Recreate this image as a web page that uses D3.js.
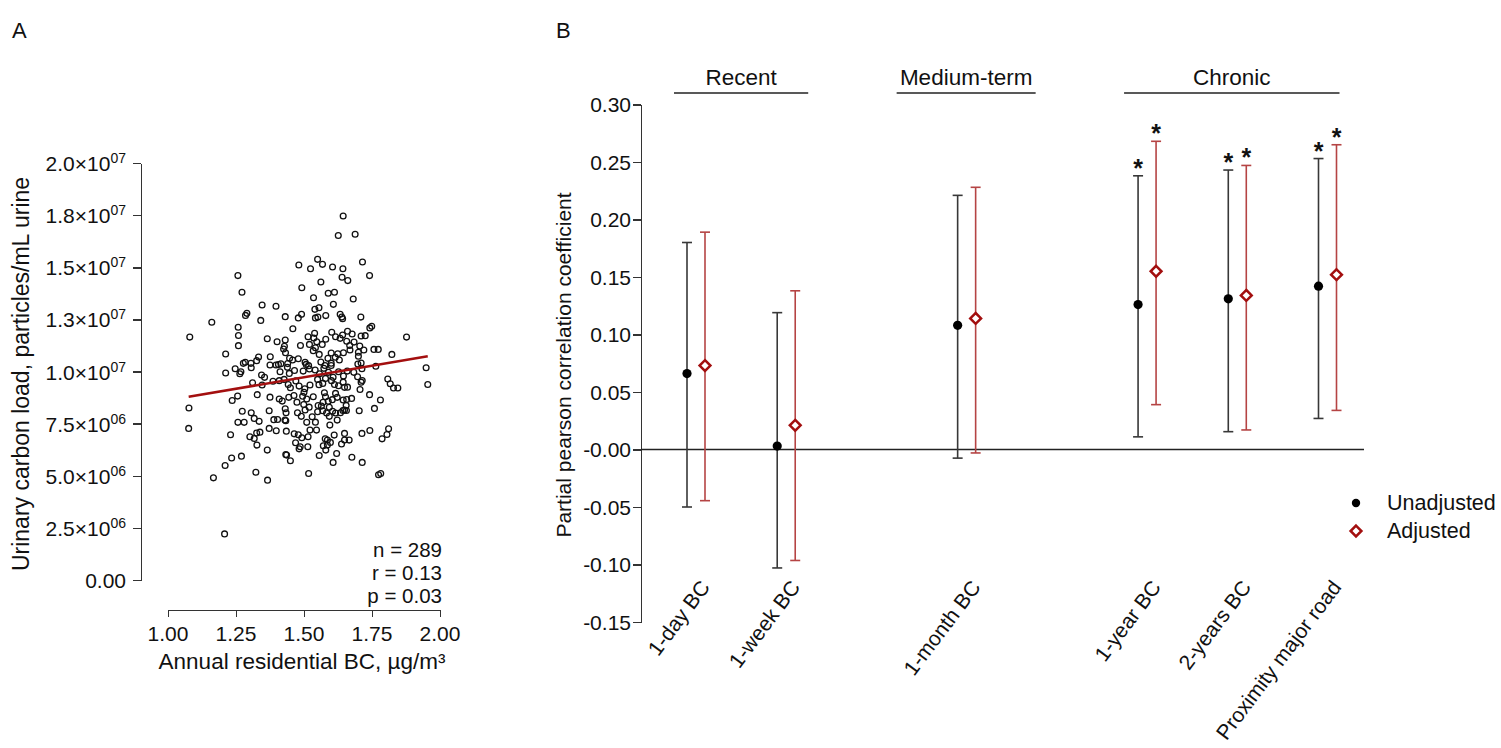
<!DOCTYPE html>
<html>
<head>
<meta charset="utf-8">
<script src="https://cdn.jsdelivr.net/npm/d3@7"></script>
<style>
  html, body { margin: 0; padding: 0; background: #fff; }
  svg { display: block; font-family: "Liberation Sans", Arial, Helvetica, sans-serif; }
  text { fill: #111; }
  .axis path, .axis line { stroke: #333; stroke-width: 1.5; fill: none; shape-rendering: crispEdges; }
</style>
</head>
<body>
<svg id="fig" width="1501" height="748"></svg>
<script>
// ---------- Panel A: urinary carbon load vs annual residential BC ----------
const bcAnnual = [
  1.644,1.626,1.688,
  1.481,1.524,1.550,1.568,1.605,1.643,1.715,1.741,
  1.257,1.640,1.661,1.492,1.562,1.589,1.612,1.272,
  1.535,1.608,1.681,
  1.346,1.397,1.290,1.285,1.341,1.161,1.431,1.479,1.491,1.540,1.555,1.542,1.551,1.580,1.633,1.642,1.709,1.639,
  1.080,1.258,1.259,1.259,1.365,1.401,1.431,1.428,1.459,1.487,1.515,1.520,1.539,1.536,1.547,1.567,1.602,1.616,1.633,1.642,1.660,1.677,1.684,1.705,1.710,1.725,1.742,1.749,1.877,1.657,1.668,1.700,
  1.212,1.284,1.277,1.305,1.326,1.333,1.376,1.406,1.425,1.432,1.447,1.458,1.479,1.508,1.534,1.542,1.556,1.562,1.588,1.600,1.615,1.624,1.645,1.669,1.700,1.720,1.757,1.773,1.823,1.698,1.710,
  1.212,1.247,1.268,1.306,1.264,1.344,1.355,1.375,1.415,1.397,1.412,1.439,1.446,1.465,1.497,1.504,1.517,1.541,1.557,1.573,1.577,1.590,1.600,1.607,1.627,1.645,1.659,1.683,1.713,1.764,1.949,
  1.311,1.346,1.386,1.409,1.427,1.442,1.450,1.482,1.503,1.522,1.555,1.569,1.579,1.601,1.612,1.627,1.644,1.649,1.710,1.697,1.714,1.808,1.817,1.829,1.845,1.955,
  1.077,1.076,1.236,1.256,1.328,1.375,1.409,1.420,1.444,1.463,1.474,1.495,1.499,1.510,1.519,1.534,1.552,1.564,1.579,1.589,1.575,1.593,1.604,1.616,1.622,1.644,1.657,1.649,1.655,1.675,1.706,1.741,1.759,1.781,
  1.273,1.280,1.257,1.306,1.317,1.335,1.372,1.389,1.403,1.431,1.434,1.430,1.433,1.476,1.490,1.504,1.510,1.542,1.530,1.550,1.569,1.583,1.593,1.605,1.616,1.622,1.634,1.643,1.656,1.703,1.595,
  1.230,1.301,1.317,1.326,1.338,1.372,1.398,1.435,1.464,1.479,1.492,1.522,1.515,1.546,1.578,1.586,1.597,1.611,1.649,1.649,1.666,1.713,1.742,1.787,1.805,1.811,
  1.234,1.210,1.270,1.327,1.365,1.433,1.436,1.450,1.469,1.486,1.482,1.514,1.517,1.556,1.571,1.586,1.580,1.607,1.620,1.638,1.676,1.714,1.774,1.782,
  1.167,1.323,1.366,
  1.208,
  1.52,1.55,1.60,1.47,1.58,1.63,1.50,1.44,1.66,1.57
];
// particles/mL urine, in millions
const carbonLoadMillions = [
  17.46,16.52,16.58,
  15.11,14.93,15.38,15.14,15.01,14.93,15.25,14.60,
  14.60,14.52,14.36,14.02,14.29,13.75,13.80,13.80,
  13.54,13.22,13.48,
  13.19,13.13,12.79,12.69,12.45,12.36,12.63,12.57,12.74,12.98,13.06,12.57,12.61,12.68,12.74,12.53,12.61,12.61,
  11.65,12.12,11.73,11.24,11.57,11.43,11.51,11.21,12.05,11.25,11.67,11.30,11.83,11.61,11.43,11.30,11.88,11.67,11.59,11.75,11.93,11.80,11.41,11.22,11.70,11.72,12.09,12.17,11.65,11.45,11.25,10.92,
  10.84,10.44,10.39,10.39,10.52,10.69,10.71,10.33,11.08,10.90,10.63,10.55,10.61,10.34,11.00,11.14,10.82,10.45,10.63,10.89,10.68,10.85,10.90,11.03,10.73,11.03,11.06,11.06,10.82,10.36,10.41,
  9.93,10.13,9.99,10.18,9.89,9.83,9.72,10.31,10.37,10.31,9.99,10.20,9.91,10.05,10.02,10.44,10.28,10.07,9.89,10.15,10.29,9.96,10.29,9.72,9.99,9.78,10.02,9.96,10.13,10.25,10.18,
  9.46,9.35,9.53,9.56,9.62,9.38,9.22,9.30,9.17,9.35,9.37,9.43,9.67,9.56,9.38,9.32,9.49,9.24,9.49,9.75,9.57,9.64,9.41,9.21,9.21,9.38,
  8.25,7.27,8.61,8.82,8.89,8.77,8.68,8.58,8.76,8.85,8.53,8.81,8.42,8.68,8.29,8.79,8.37,8.34,8.79,8.57,8.98,8.28,8.65,8.95,8.76,8.63,8.66,8.15,8.37,8.71,9.14,8.89,8.23,8.63,
  8.09,7.56,7.56,8.02,7.75,7.61,8.12,7.69,7.70,8.21,8.02,7.67,7.64,8.02,7.85,8.15,7.56,7.57,7.83,8.07,8.12,8.01,7.85,8.09,8.01,7.67,8.02,8.13,8.13,8.12,7.43,
  6.97,6.87,6.79,7.05,7.09,7.27,7.16,7.14,7.01,6.97,6.82,7.19,6.87,7.19,6.77,6.71,6.60,6.95,7.03,6.71,6.71,7.03,7.17,6.77,6.98,7.25,
  5.85,5.49,5.94,6.47,6.23,6.02,5.99,5.72,6.58,6.39,6.29,6.39,5.11,5.97,6.44,6.47,6.23,5.64,6.07,6.52,5.89,5.64,5.05,5.11,
  4.90,5.17,4.79,
  2.21,
  10.12,9.62,10.40,9.55,11.55,10.55,9.00,10.38,9.25,8.52
];
// fitted line: load = intercept + slope * BC
const fitIntercept = 6.41e6;
const fitSlope = 2.21e6;
const statsLines = ["n = 289", "r = 0.13", "p = 0.03"];

const xTicksA = [1.00, 1.25, 1.50, 1.75, 2.00];
const xTickLabelsA = ["1.00", "1.25", "1.50", "1.75", "2.00"];
const yTicksA = [0, 2.5e6, 5e6, 7.5e6, 1e7, 1.25e7, 1.5e7, 1.75e7, 2e7];
const yTickMantissaA = ["0.00", "2.5×10", "5.0×10", "7.5×10", "1.0×10", "1.3×10", "1.5×10", "1.8×10", "2.0×10"];
const yTickExponentA = ["", "06", "06", "06", "07", "07", "07", "07", "07"];

// ---------- Panel B: partial correlations by exposure window ----------
const exposures = ["1-day BC", "1-week BC", "1-month BC", "1-year BC", "2-years BC", "Proximity major road"];
const exposureGroup = ["Recent", "Recent", "Medium-term", "Chronic", "Chronic", "Chronic"];
const unadjR  = [0.066, 0.003, 0.108, 0.126, 0.131, 0.142];
const unadjLo = [-0.050, -0.103, -0.0075, 0.011, 0.0155, 0.027];
const unadjHi = [0.180, 0.119, 0.221, 0.238, 0.243, 0.253];
const unadjSig = [false, false, false, true, true, true];
const adjR  = [0.073, 0.021, 0.114, 0.155, 0.134, 0.152];
const adjLo = [-0.0445, -0.0965, -0.003, 0.039, 0.017, 0.034];
const adjHi = [0.189, 0.138, 0.228, 0.268, 0.247, 0.265];
const adjSig = [false, false, false, true, true, true];

const yTicksB = [-0.15, -0.10, -0.05, 0.00, 0.05, 0.10, 0.15, 0.20, 0.25, 0.30];
const yTickLabelsB = ["-0.15", "-0.10", "-0.05", "-0.00", "0.05", "0.10", "0.15", "0.20", "0.25", "0.30"];
const legendLabels = ["Unadjusted", "Adjusted"];

// ---------- drawing ----------
const RED = "#a30f0f";
const RED_BAR = "#b54444";
const DARK = "#383838";

const svg = d3.select("#fig");

// panel letters
svg.append("text").attr("x", 12).attr("y", 38).style("font-size", "22px").text("A");
svg.append("text").attr("x", 556).attr("y", 38).style("font-size", "22px").text("B");

// ----- A -----
const xA = d3.scaleLinear().domain([1, 2]).range([168, 440]);
const yA = d3.scaleLinear().domain([0, 2e7]).range([580, 163]);
const gA = svg.append("g");

gA.append("g").attr("class", "axis").attr("transform", "translate(141,0)")
  .call(d3.axisLeft(yA).tickValues(yTicksA).tickSize(8).tickSizeOuter(0).tickFormat(""));
gA.append("g").attr("class", "axis").attr("transform", "translate(0,610)")
  .call(d3.axisBottom(xA).tickValues(xTicksA).tickSize(7).tickSizeOuter(0).tickFormat(""));

yTicksA.forEach((v, i) => {
  const t = gA.append("text").attr("x", 126).attr("y", yA(v) + 8)
    .attr("text-anchor", "end").style("font-size", "21px");
  t.append("tspan").text(yTickMantissaA[i]);
  if (yTickExponentA[i]) {
    t.append("tspan").attr("dy", -8).style("font-size", "14px").text(yTickExponentA[i]);
  }
});
xTicksA.forEach((v, i) => {
  gA.append("text").attr("x", xA(v)).attr("y", 641).attr("text-anchor", "middle")
    .style("font-size", "21px").text(xTickLabelsA[i]);
});
gA.append("text").attr("x", 302).attr("y", 669).attr("text-anchor", "middle")
  .style("font-size", "22.5px").text("Annual residential BC, µg/m³");
gA.append("text").attr("transform", "translate(29,374) rotate(-90)").attr("text-anchor", "middle")
  .style("font-size", "23px").text("Urinary carbon load, particles/mL urine");

const pts = bcAnnual.map((x, i) => ({ x, y: carbonLoadMillions[i] * 1e6 }));
gA.append("g").selectAll("circle").data(pts).join("circle")
  .attr("cx", d => xA(d.x)).attr("cy", d => yA(d.y)).attr("r", 2.9)
  .attr("fill", "none").attr("stroke", "#111").attr("stroke-width", 1.3);

const [xMin, xMax] = d3.extent(bcAnnual);
gA.append("line")
  .attr("x1", xA(xMin)).attr("y1", yA(fitIntercept + fitSlope * xMin))
  .attr("x2", xA(xMax)).attr("y2", yA(fitIntercept + fitSlope * xMax))
  .attr("stroke", RED).attr("stroke-width", 2.6);

statsLines.forEach((s, i) => {
  gA.append("text").attr("x", 442).attr("y", 557 + i * 23).attr("text-anchor", "end")
    .style("font-size", "20.5px").text(s);
});

// ----- B -----
const yB = d3.scaleLinear().domain([-0.15, 0.30]).range([622, 104.5]);

// slot index per exposure: consecutive within a group, one empty slot between groups
const slots = [];
exposures.forEach((e, i) => {
  if (i === 0) slots.push(0);
  else slots.push(slots[i - 1] + (exposureGroup[i] === exposureGroup[i - 1] ? 1 : 2));
});
const xB = d3.scaleLinear().domain([0, d3.max(slots)]).range([696, 1327.5]);
const pairOffset = 9;

const gB = svg.append("g");
gB.append("g").attr("class", "axis").attr("transform", "translate(641,0)")
  .call(d3.axisLeft(yB).tickValues(yTicksB).tickSize(8).tickSizeOuter(0).tickFormat(""));
yTicksB.forEach((v, i) => {
  gB.append("text").attr("x", 631).attr("y", yB(v) + 7.5).attr("text-anchor", "end")
    .style("font-size", "21px").text(yTickLabelsB[i]);
});
gB.append("text").attr("transform", "translate(571,365) rotate(-90)").attr("text-anchor", "middle")
  .style("font-size", "21px").text("Partial pearson correlation coefficient");

// zero reference line
gB.append("line").attr("x1", 641).attr("x2", 1364).attr("y1", yB(0)).attr("y2", yB(0))
  .attr("stroke", "#222").attr("stroke-width", 1.3);

// group brackets
const groups = Array.from(new Set(exposureGroup));
const bracketPad = { "Recent": [22, 22], "Medium-term": [70, 69], "Chronic": [23, 12] };
groups.forEach(g => {
  const s = slots.filter((_, i) => exposureGroup[i] === g);
  const x1 = xB(d3.min(s)) - bracketPad[g][0];
  const x2 = xB(d3.max(s)) + bracketPad[g][1];
  gB.append("line").attr("x1", x1).attr("x2", x2).attr("y1", 93).attr("y2", 93)
    .attr("stroke", "#222").attr("stroke-width", 1.4);
  gB.append("text").attr("x", (x1 + x2) / 2).attr("y", 85).attr("text-anchor", "middle")
    .style("font-size", "22.5px").text(g);
});

function errorBar(x, lo, hi, color) {
  gB.append("line").attr("x1", x).attr("x2", x).attr("y1", yB(lo)).attr("y2", yB(hi))
    .attr("stroke", color).attr("stroke-width", 1.6);
  [lo, hi].forEach(v => {
    gB.append("line").attr("x1", x - 5).attr("x2", x + 5).attr("y1", yB(v)).attr("y2", yB(v))
      .attr("stroke", color).attr("stroke-width", 1.6);
  });
}
function diamond(x, y) {
  const w = 5.4, h = 5.4;
  return `M${x},${y - h}L${x + w},${y}L${x},${y + h}L${x - w},${y}Z`;
}

exposures.forEach((e, i) => {
  const cx = xB(slots[i]);
  const xu = cx - pairOffset, xa = cx + pairOffset;
  errorBar(xu, unadjLo[i], unadjHi[i], DARK);
  errorBar(xa, adjLo[i], adjHi[i], RED_BAR);
  gB.append("circle").attr("cx", xu).attr("cy", yB(unadjR[i])).attr("r", 4.6).attr("fill", "#000");
  gB.append("path").attr("d", diamond(xa, yB(adjR[i])))
    .attr("fill", "#fff").attr("stroke", RED).attr("stroke-width", 2.5);
  if (unadjSig[i]) gB.append("text").attr("x", xu).attr("y", yB(unadjHi[i]) + 1)
    .attr("text-anchor", "middle").style("font-size", "25px").style("font-weight", "bold").text("*");
  if (adjSig[i]) gB.append("text").attr("x", xa).attr("y", yB(adjHi[i]) + 1)
    .attr("text-anchor", "middle").style("font-size", "25px").style("font-weight", "bold").text("*");
  gB.append("text").attr("transform", `translate(${cx + 9},583) rotate(-53)`)
    .attr("text-anchor", "end").attr("dy", "0.35em").style("font-size", "21px").text(e);
});

// legend
gB.append("circle").attr("cx", 1356).attr("cy", 503).attr("r", 4.2).attr("fill", "#000");
gB.append("path").attr("d", diamond(1356, 531)).attr("fill", "#fff").attr("stroke", RED).attr("stroke-width", 2.5);
legendLabels.forEach((l, i) => {
  gB.append("text").attr("x", 1387).attr("y", 510 + i * 28).style("font-size", "21.5px").text(l);
});
</script>
</body>
</html>
